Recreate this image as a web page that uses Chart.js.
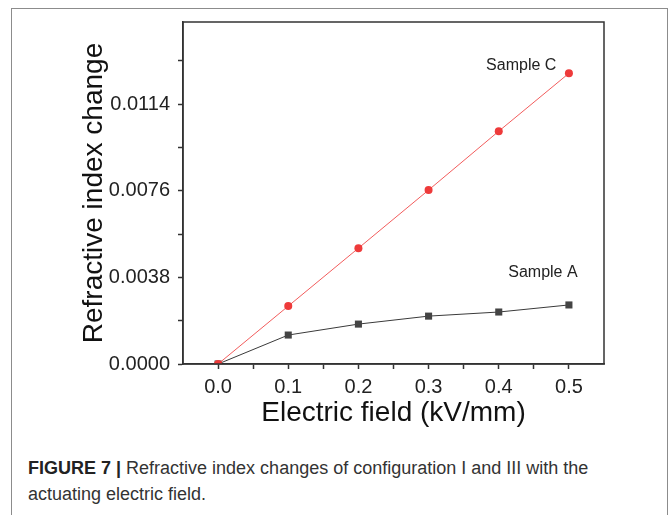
<!DOCTYPE html>
<html>
<head>
<meta charset="utf-8">
<script src="https://cdn.jsdelivr.net/npm/chart.js@4/dist/chart.umd.min.js"></script>
<style>
  html, body { margin: 0; padding: 0; background: #fff; }
  body { width: 669px; height: 515px; position: relative; overflow: hidden; }
  #frame {
    position: absolute; left: 11px; top: 8px; width: 655px; height: 520px;
    border: 1.5px solid #8c8c8c;
  }
  #wrap { position: absolute; left: 0; top: 0; width: 669px; height: 440px; }
  #caption {
    position: absolute; left: 28px; top: 455px; width: 600px;
    font-family: "Liberation Sans", Arial, sans-serif; font-size: 18px;
    line-height: 26px; color: #333;
  }
  #caption b { color: #222; }
</style>
</head>
<body>
<div id="frame"></div>
<div id="wrap"><canvas id="chart" width="669" height="440"></canvas></div>
<div id="caption"><b>FIGURE 7 |</b> Refractive index changes of configuration I and III with the actuating electric field.</div>

<script>
/* ---------- data ---------- */

const fieldValues = [0, 0.1, 0.2, 0.3, 0.4, 0.5];
const sampleC = [0, 0.00254, 0.00508, 0.00763, 0.01021, 0.01275];
const sampleA = [0, 0.00127, 0.00175, 0.0021, 0.00228, 0.00259];

const seriesNames = ["Sample C", "Sample A"];

// y ticks every 0.0019, labels on every other one
const yTicks = [0, 0.0019, 0.0038, 0.0057, 0.0076, 0.0095, 0.0114, 0.0133];
const yLabels = ["0.0000", "", "0.0038", "", "0.0076", "", "0.0114", ""];

// x ticks every 0.05, labels on tenths
const xTicks = [0, 0.05, 0.1, 0.15, 0.2, 0.25, 0.3, 0.35, 0.4, 0.45, 0.5];
const xLabels = ["0.0", "", "0.1", "", "0.2", "", "0.3", "", "0.4", "", "0.5"];


/* ---------- helpers ---------- */

const FONT = "'Liberation Sans', Arial, sans-serif";

function toPoints(ys) {
    return fieldValues.map((x, i) => ({ x: x, y: ys[i] }));
}

// frame on top/right plus the series labels
const boxAndLabels = {
    id: "boxAndLabels",
    afterDatasetsDraw(chart) {
        const { ctx, chartArea: a, scales } = chart;
        ctx.save();
        ctx.strokeStyle = "#333";
        ctx.lineWidth = 1.5;
        ctx.strokeRect(a.left, a.top, a.right - a.left, a.bottom - a.top);

        ctx.fillStyle = "#222";
        ctx.font = "16px " + FONT;
        ctx.textAlign = "center";
        ctx.textBaseline = "middle";
        ctx.fillText(seriesNames[0], scales.x.getPixelForValue(0.432), scales.y.getPixelForValue(0.0131));
        ctx.fillText(seriesNames[1], scales.x.getPixelForValue(0.463), scales.y.getPixelForValue(0.0040));
        ctx.restore();
    }
};


/* ---------- chart ---------- */

new Chart(document.getElementById("chart"), {
    type: "line",
    data: {
        datasets: [
            {
                label: seriesNames[0],
                data: toPoints(sampleC),
                borderColor: "#f25c5c",
                borderWidth: 1,
                pointStyle: "circle",
                pointRadius: 4,
                pointBackgroundColor: "#ee3a3a",
                pointBorderColor: "#ee3a3a",
                pointBorderWidth: 0
            },
            {
                label: seriesNames[1],
                data: toPoints(sampleA),
                borderColor: "#3a3a3a",
                borderWidth: 1,
                pointStyle: "rect",
                pointRadius: 5,
                pointBackgroundColor: "#444",
                pointBorderColor: "#444",
                pointBorderWidth: 0
            }
        ]
    },
    options: {
        responsive: false,
        animation: false,
        events: [],
        layout: { padding: { left: 0, top: 22, right: 65, bottom: 0 } },
        plugins: { legend: { display: false }, tooltip: { enabled: false } },
        scales: {
            x: {
                type: "linear",
                min: -0.05,
                max: 0.55,
                afterBuildTicks: s => { s.ticks = xTicks.map(v => ({ value: v })); },
                afterFit: s => { s.height = 76; },
                grid: { drawOnChartArea: false, tickLength: 5, tickColor: "#333", tickWidth: 1.5 },
                border: { color: "#333", width: 1.5 },
                ticks: {
                    autoSkip: false,
                    maxRotation: 0,
                    padding: 6,
                    color: "#222",
                    font: { family: FONT, size: 20 },
                    callback: (v, i) => xLabels[i]
                },
                title: {
                    display: true,
                    text: "Electric field (kV/mm)",
                    color: "#111",
                    font: { family: FONT, size: 28 },
                    padding: { top: 0, bottom: 10 }
                }
            },
            y: {
                min: 0,
                max: 0.015,
                afterBuildTicks: s => { s.ticks = yTicks.map(v => ({ value: v })); },
                afterFit: s => { s.width = 183; },
                grid: { drawOnChartArea: false, tickLength: 5, tickColor: "#333", tickWidth: 1.5 },
                border: { color: "#333", width: 1.5 },
                ticks: {
                    autoSkip: false,
                    padding: 8,
                    color: "#222",
                    font: { family: FONT, size: 20 },
                    callback: (v, i) => yLabels[i]
                },
                title: {
                    display: true,
                    text: "Refractive index change",
                    color: "#111",
                    font: { family: FONT, size: 28 },
                    padding: { top: 77, bottom: 0 }
                }
            }
        }
    },
    plugins: [boxAndLabels]
});
</script>
</body>
</html>
